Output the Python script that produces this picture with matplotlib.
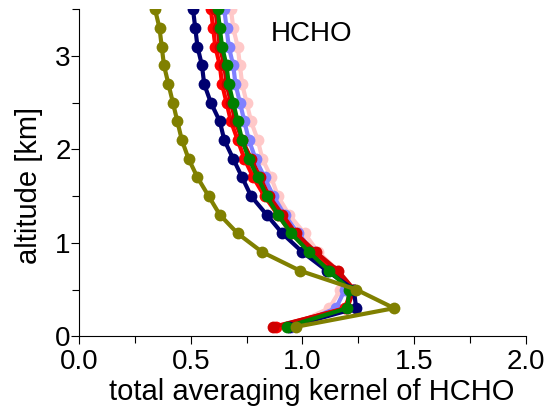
import matplotlib
matplotlib.use("Agg")
import matplotlib.pyplot as plt
from matplotlib.ticker import MultipleLocator

plt.rcParams["font.family"] = ["Liberation Sans", "DejaVu Sans"]

# altitude levels of the retrieval grid [km]
altitude = [0.1, 0.3, 0.5, 0.7, 0.9, 1.1, 1.3, 1.5, 1.7, 1.9,
            2.1, 2.3, 2.5, 2.7, 2.9, 3.1, 3.3, 3.5, 3.7]

# total averaging kernels, one profile per case
ak_pink = [0.94, 1.12, 1.17, 1.16, 1.07, 1.01, 0.94, 0.89, 0.86, 0.82,
           0.80, 0.77, 0.75, 0.73, 0.72, 0.71, 0.69, 0.68, 0.67]
ak_blue = [0.95, 1.15, 1.19, 1.14, 1.05, 0.98, 0.92, 0.87, 0.83, 0.79,
           0.76, 0.74, 0.72, 0.70, 0.69, 0.67, 0.66, 0.65, 0.64]
ak_red = [0.88, 1.19, 1.22, 1.14, 1.04, 0.95, 0.89, 0.83, 0.78, 0.74,
          0.71, 0.68, 0.66, 0.64, 0.63, 0.61, 0.60, 0.59, 0.58]
ak_darkred = [0.87, 1.20, 1.23, 1.16, 1.06, 0.97, 0.91, 0.85, 0.81, 0.77,
              0.73, 0.70, 0.68, 0.66, 0.65, 0.63, 0.62, 0.61, 0.60]
ak_navy = [0.94, 1.24, 1.23, 1.11, 1.00, 0.91, 0.84, 0.77, 0.73, 0.69,
           0.65, 0.63, 0.59, 0.56, 0.55, 0.53, 0.52, 0.51, 0.50]
ak_green = [0.93, 1.20, 1.21, 1.12, 1.03, 0.95, 0.89, 0.84, 0.80, 0.76,
            0.73, 0.71, 0.69, 0.67, 0.66, 0.64, 0.63, 0.62, 0.61]
ak_olive = [0.97, 1.41, 1.24, 0.99, 0.82, 0.71, 0.63, 0.58, 0.53, 0.49,
            0.46, 0.44, 0.42, 0.40, 0.38, 0.37, 0.36, 0.34, 0.33]

profiles = [
    (ak_pink, "#ffc8c8"),
    (ak_blue, "#8080ff"),
    (ak_red, "#ff0000"),
    (ak_darkred, "#d00000"),
    (ak_navy, "#000070"),
    (ak_green, "#008000"),
    (ak_olive, "#808000"),
]

fig = plt.figure(figsize=(5.53, 4.08), dpi=100)
ax = fig.add_axes([0.143, 0.176, 0.808, 0.801])

for values, color in profiles:
    ax.plot(values, altitude, color=color, linewidth=3.0, marker="o",
            markersize=8.5, markeredgewidth=0)

ax.set_xlim(0, 2.0)
ax.set_ylim(0, 3.5)
ax.xaxis.set_major_locator(MultipleLocator(0.5))
ax.xaxis.set_minor_locator(MultipleLocator(0.25))
ax.yaxis.set_major_locator(MultipleLocator(1))
ax.yaxis.set_minor_locator(MultipleLocator(0.5))
ax.xaxis.set_major_formatter(plt.FormatStrFormatter("%.1f"))

for side in ("top", "right"):
    ax.spines[side].set_visible(False)
for side in ("left", "bottom"):
    ax.spines[side].set_linewidth(0.8)

ax.tick_params(which="major", direction="out", length=6, width=0.8,
               labelsize=20, pad=0)
ax.tick_params(axis="x", which="major", pad=3)
ax.tick_params(which="minor", direction="out", length=5, width=0.8)

ax.set_xlabel("total averaging kernel of HCHO", fontsize=21)
ax.xaxis.set_label_coords(0.52, -0.128)
ax.set_ylabel("altitude [km]", fontsize=21)
ax.yaxis.set_label_coords(-0.08, 0.46)

ax.text(0.86, 3.24, "HCHO", fontsize=20, va="center", ha="left")

fig.savefig("out.png", dpi=100)
